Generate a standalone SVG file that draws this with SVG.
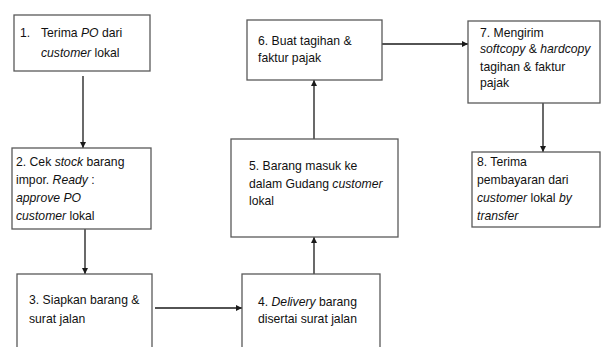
<svg xmlns="http://www.w3.org/2000/svg" width="603" height="347" viewBox="0 0 603 347">
<style>
.box{fill:#fff;stroke:#595959;stroke-width:1.3}
text{font-family:"Liberation Sans",Arial,sans-serif;font-size:12.2px;fill:#111}
.i{font-style:italic}
.c{stroke:#1a1a1a;stroke-width:1.3;fill:none;marker-end:url(#a)}
</style>
<defs>
<marker id="a" viewBox="0 0 10 10" refX="10" refY="5" markerWidth="6" markerHeight="6" markerUnits="userSpaceOnUse" orient="auto">
<path d="M0,0L10,5L0,10z" fill="#1a1a1a"/>
</marker>
</defs>
<rect width="603" height="347" fill="#fff"/>
<g id="connectors">
<line class="c" x1="83" y1="76" x2="83" y2="148"/>
<line class="c" x1="85" y1="229" x2="85" y2="274"/>
<line class="c" x1="155" y1="308" x2="242" y2="308"/>
<line class="c" x1="314" y1="274" x2="314" y2="237"/>
<line class="c" x1="314" y1="139" x2="314" y2="80"/>
<line class="c" x1="382" y1="44" x2="468" y2="44"/>
<line class="c" x1="543" y1="103" x2="543" y2="152"/>
</g>
<g id="n1">
<rect class="box" x="14" y="15" width="136" height="56"/>
<text x="20" y="37">1.</text>
<text x="41" y="37">Terima <tspan class="i">PO</tspan> dari</text>
<text x="41" y="57"><tspan class="i">customer</tspan> lokal</text>
</g>
<g id="n2">
<rect class="box" x="12" y="148" width="139" height="81"/>
<text x="16" y="166">2. Cek <tspan class="i">stock</tspan> barang</text>
<text x="16" y="184">impor. <tspan class="i">Ready</tspan> :</text>
<text x="16" y="202" class="i">approve PO</text>
<text x="16" y="220"><tspan class="i">customer</tspan> lokal</text>
</g>
<g id="n3">
<rect class="box" x="17" y="274" width="135" height="80"/>
<text x="29" y="304">3. Siapkan barang &amp;</text>
<text x="29" y="323">surat jalan</text>
</g>
<g id="n4">
<rect class="box" x="242" y="274" width="138" height="80"/>
<text x="258" y="306">4. <tspan class="i">Delivery</tspan> barang</text>
<text x="258" y="323">disertai surat jalan</text>
</g>
<g id="n5">
<rect class="box" x="231" y="139" width="167" height="98"/>
<text x="249" y="170">5. Barang masuk ke</text>
<text x="249" y="188">dalam Gudang <tspan class="i">customer</tspan></text>
<text x="249" y="205">lokal</text>
</g>
<g id="n6">
<rect class="box" x="247" y="20" width="135" height="60"/>
<text x="258" y="45">6. Buat tagihan &amp;</text>
<text x="258" y="62">faktur pajak</text>
</g>
<g id="n7">
<rect class="box" x="468" y="21" width="132" height="82"/>
<text x="480" y="37">7. Mengirim</text>
<text x="480" y="53"><tspan class="i">softcopy</tspan> &amp; <tspan class="i">hardcopy</tspan></text>
<text x="480" y="71">tagihan &amp; faktur</text>
<text x="480" y="87">pajak</text>
</g>
<g id="n8">
<rect class="box" x="472" y="152" width="128" height="75"/>
<text x="477" y="166">8. Terima</text>
<text x="477" y="184">pembayaran dari</text>
<text x="477" y="202"><tspan class="i">customer</tspan> lokal <tspan class="i">by</tspan></text>
<text x="477" y="220" class="i">transfer</text>
</g>
</svg>
